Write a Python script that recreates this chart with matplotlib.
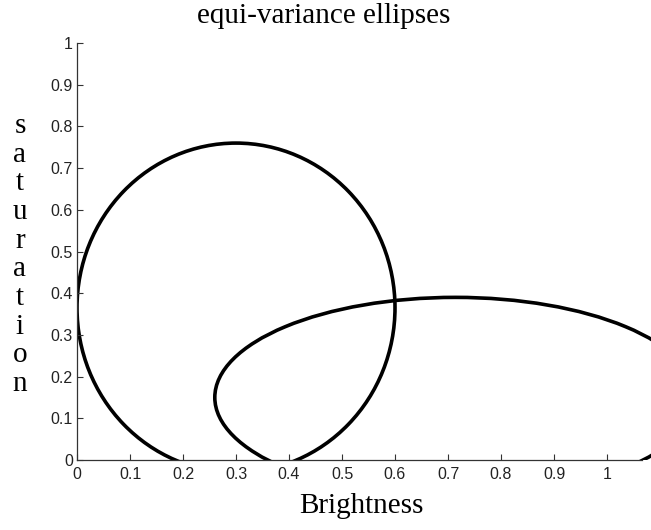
import matplotlib.pyplot as plt
from matplotlib.patches import Ellipse

# ellipse parameters: centre x, centre y, full width, full height (data units)
centers_x = [0.30, 0.714]
centers_y = [0.365, 0.15]
widths = [0.60, 0.908]
heights = [0.79, 0.48]

xticks = [0, 0.1, 0.2, 0.3, 0.4, 0.5, 0.6, 0.7, 0.8, 0.9, 1]
yticks = [0, 0.1, 0.2, 0.3, 0.4, 0.5, 0.6, 0.7, 0.8, 0.9, 1]
xticklabels = ['0', '0.1', '0.2', '0.3', '0.4', '0.5', '0.6', '0.7', '0.8', '0.9', '1']
yticklabels = ['0', '0.1', '0.2', '0.3', '0.4', '0.5', '0.6', '0.7', '0.8', '0.9', '1']

W, H = 651, 530
fig = plt.figure(figsize=(W / 100, H / 100), dpi=100)

x0, y0 = 77, 460          # pixel position of data origin
px_x, px_y = 530, 417     # pixels per data unit
xmax = 1.1
ax = fig.add_axes([x0 / W, (H - y0) / H, xmax * px_x / W, px_y / H])

for cx, cy, w, h in zip(centers_x, centers_y, widths, heights):
    ax.add_patch(Ellipse((cx, cy), w, h, fill=False, edgecolor='black', linewidth=2.6))

ax.set_xlim(0, xmax)
ax.set_ylim(0, 1)
ax.spines['top'].set_visible(False)
ax.spines['right'].set_visible(False)
ax.spines['bottom'].set_bounds(0, 1.066)
for s in ('left', 'bottom'):
    ax.spines[s].set_color('#333333')
    ax.spines[s].set_linewidth(0.9)

ax.set_xticks(xticks)
ax.set_xticklabels(xticklabels)
ax.set_yticks(yticks)
ax.set_yticklabels(yticklabels)
ax.tick_params(direction='in', length=4, width=0.8, color='#333333',
               labelsize=11.5, labelcolor='#222222')
ax.tick_params(axis='x', pad=5)
ax.tick_params(axis='y', pad=3)
for lab in ax.get_xticklabels() + ax.get_yticklabels():
    lab.set_family('Liberation Sans')

serif = 'Liberation Serif'
fig.text(324 / W, 1 - 16 / H, 'equi-variance ellipses', ha='center', va='center',
         family=serif, fontsize=21)
fig.text(361 / W, 1 - 506 / H, 'Brightness', ha='center', va='center',
         family=serif, fontsize=21)
fig.text(20 / W, 1 - 255 / H, '\n'.join('saturation'), ha='center', va='center',
         family=serif, fontsize=21, linespacing=1.13)

fig.savefig('out.png', dpi=100)
